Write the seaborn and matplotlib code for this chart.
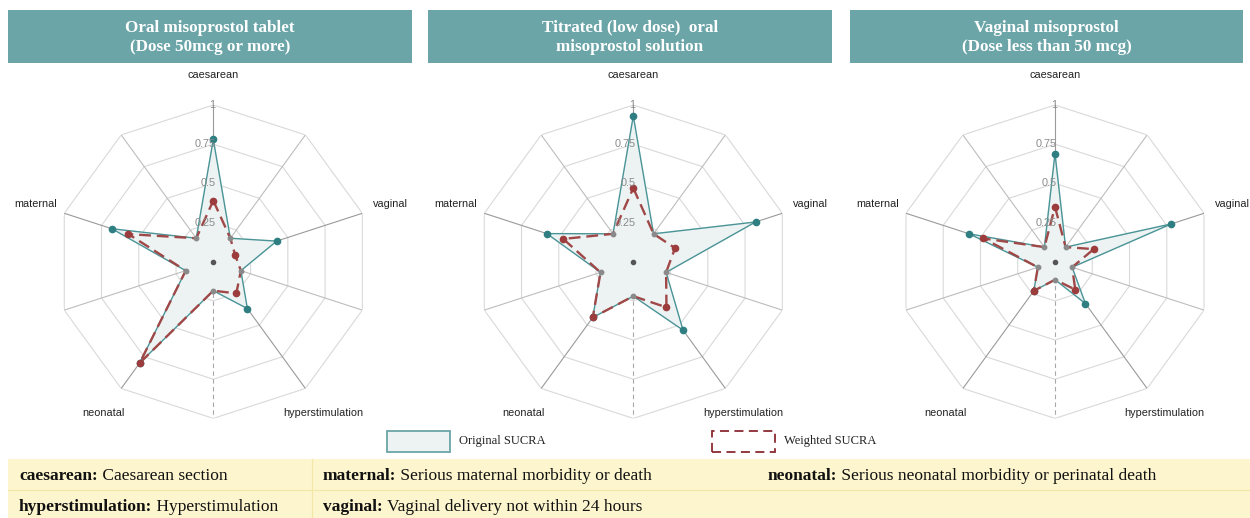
import numpy as np
import pandas as pd
import matplotlib
matplotlib.use("Agg")
import matplotlib.pyplot as plt
from matplotlib.patches import Rectangle
import seaborn as sns

# ---------------- data ----------------
categories = ["caesarean", "vaginal", "hyperstimulation", "neonatal", "maternal"]
titles = ["Oral misoprostol tablet\n(Dose 50mcg or more)",
          "Titrated (low dose)  oral\nmisoprostol solution",
          "Vaginal misoprostol\n(Dose less than 50 mcg)"]

oral_tablet_original = [0.78, 0.425, 0.37, 0.80, 0.68]
oral_tablet_weighted = [0.39, 0.146, 0.25, 0.80, 0.57]
oral_tablet_spacer = 0.185

titrated_original = [0.93, 0.82, 0.54, 0.44, 0.58]
titrated_weighted = [0.47, 0.28, 0.36, 0.44, 0.47]
titrated_spacer = 0.22

vaginal_original = [0.69, 0.78, 0.33, 0.23, 0.575]
vaginal_weighted = [0.35, 0.26, 0.22, 0.23, 0.48]
vaginal_spacer = 0.115

radial_ticks = [0.25, 0.5, 0.75, 1]
radial_tick_labels = ["0.25", "0.5", "0.75", "1"]

legend_labels = ["Original SUCRA", "Weighted SUCRA"]
glossary = [
    [("caesarean:", " Caesarean section"), ("maternal:", " Serious maternal morbidity or death"),
     ("neonatal:", " Serious neonatal morbidity or perinatal death")],
    [("hyperstimulation:", " Hyperstimulation"), ("vaginal:", " Vaginal delivery not within 24 hours")],
]

panels = [
    (oral_tablet_original, oral_tablet_weighted, oral_tablet_spacer),
    (titrated_original, titrated_weighted, titrated_spacer),
    (vaginal_original, vaginal_weighted, vaginal_spacer),
]

# ---------------- style ----------------
sns.set_theme(style="white")
plt.rcParams["font.family"] = ["Liberation Sans", "DejaVu Sans"]

W, H = 1250, 518
fig = plt.figure(figsize=(W / 100, H / 100), dpi=100)
fig.patch.set_facecolor("white")

def fx(x):
    return x / W

def fy(y):
    return 1 - y / H

TEAL_BOX = "#6ba5a8"
ORIG_LINE = "#4a9497"
ORIG_MARK = "#2f7f82"
ORIG_FILL = "#edf3f3"
WEIG_LINE = "#a04848"
WEIG_MARK = "#9c3c3c"
SERIF = ["Liberation Serif", "DejaVu Serif"]

centers_x = [213.3, 633.3, 1055.0]
center_y = 261.7
R = 156.7

n_ax = 10
theta_all = np.arange(n_ax) * 2 * np.pi / n_ax  # 0,36,...,324 deg (clockwise from top)

box_edges = [(8, 412), (428, 832), (850, 1243)]

for i, (orig, weig, spacer) in enumerate(panels):
    cx = centers_x[i]
    ax = fig.add_axes([fx(cx - R), fy(center_y + R), 2 * R / W, 2 * R / H],
                      projection="polar")
    ax.set_theta_zero_location("N")
    ax.set_theta_direction(-1)
    ax.set_ylim(0, 1)
    ax.axis("off")

    # rings
    th_closed = np.append(theta_all, theta_all[0])
    for rt in radial_ticks:
        ax.plot(th_closed, [rt] * (n_ax + 1), color="#d9d9d9", lw=0.8, zorder=1)
    # spokes
    for k, th in enumerate(theta_all):
        if k % 2 == 0:
            ax.plot([th, th], [0, 1], color="#9a9a9a", lw=0.8, zorder=1)
        elif k == 5:
            ax.plot([th, th], [0, 1], color="#a8a8a8", lw=0.8, ls=(0, (4, 3)), zorder=1)
        else:
            ax.plot([th, th], [0, 1], color="#bdbdbd", lw=0.8, zorder=1)

    # build 10-point series: labeled values at even positions, spacer at odd positions
    def full(vals):
        out = []
        for v in vals:
            out.append(v)
            out.append(spacer)
        return out

    r_orig = full(orig)
    r_weig = full(weig)
    df_o = pd.DataFrame({"theta": np.append(theta_all, theta_all[0]),
                         "r": r_orig + [r_orig[0]]})
    df_w = pd.DataFrame({"theta": np.append(theta_all, theta_all[0]),
                         "r": r_weig + [r_weig[0]]})

    ax.fill(df_o["theta"], df_o["r"], color=ORIG_FILL, zorder=2)
    sns.lineplot(data=df_o, x="theta", y="r", sort=False, estimator=None, ax=ax,
                 color=ORIG_LINE, lw=1.0, zorder=3)
    sns.lineplot(data=df_w, x="theta", y="r", sort=False, estimator=None, ax=ax,
                 color=WEIG_LINE, lw=1.7, linestyle=(0, (5, 2.5)), zorder=4)

    th_lab = theta_all[0::2]
    th_sp = theta_all[1::2]
    ax.plot(th_lab, orig, "o", color=ORIG_MARK, ms=4.5, zorder=5, clip_on=False)
    ax.plot(th_lab, weig, "o", color=WEIG_MARK, ms=4.5, zorder=6, clip_on=False)
    ax.plot(th_sp, [spacer] * 5, "o", color="#8a8a8a", ms=3.2, zorder=6)
    ax.plot([0], [0], "o", color="#555555", ms=3, zorder=6)

    # radial tick labels
    for rt, lab in zip(radial_ticks, radial_tick_labels):
        ax.annotate(lab, xy=(0, rt), xytext=(1.5, 0), textcoords="offset points",
                    ha="right", va="center", fontsize=7.8, color="#8a8a8a", zorder=7)

    # category labels
    for th, lab in zip(th_lab, categories):
        ax.text(th, 1.19, lab, ha="center", va="center", fontsize=7.8, color="#222222")

    ax.set_xlabel("")
    ax.set_ylabel("")

    # title box
    x0, x1 = box_edges[i]
    fig.add_artist(Rectangle((fx(x0), fy(63)), fx(x1 - x0), (63 - 10) / H,
                             transform=fig.transFigure, facecolor=TEAL_BOX,
                             edgecolor="none"))
    fig.text(fx((x0 + x1) / 2), fy(37.5), titles[i], ha="center", va="center",
             color="white", fontsize=12.3, fontweight="bold", family=SERIF,
             linespacing=1.3)

# ---------------- legend ----------------
fig.add_artist(Rectangle((fx(387), fy(452)), fx(63), 21 / H, transform=fig.transFigure,
                         facecolor=ORIG_FILL, edgecolor=TEAL_BOX, lw=1.3))
fig.text(fx(459), fy(441), legend_labels[0], ha="left", va="center", fontsize=9,
         family=SERIF, color="#222222")
fig.add_artist(Rectangle((fx(712), fy(452)), fx(63), 21 / H, transform=fig.transFigure,
                         facecolor="none", edgecolor="#8b2a33", lw=1.3,
                         linestyle=(0, (5, 3))))
fig.text(fx(784), fy(441), legend_labels[1], ha="left", va="center", fontsize=9,
         family=SERIF, color="#222222")

# ---------------- glossary table ----------------
YEL = "#fcf5cd"
fig.add_artist(Rectangle((fx(8), fy(518)), fx(1242), (518 - 459) / H,
                         transform=fig.transFigure, facecolor=YEL, edgecolor="none"))
fig.add_artist(plt.Line2D([fx(8), fx(1250)], [fy(490), fy(490)], color="#f3e7a6", lw=0.8))
fig.add_artist(plt.Line2D([fx(312), fx(312)], [fy(459), fy(518)], color="#f3e7a6", lw=0.8))

renderer = fig.canvas.get_renderer()
col_x = [19, 323, 768]
row_y = [476, 507]
for ri, row in enumerate(glossary):
    for ci, (bold, rest) in enumerate(row):
        t = fig.text(fx(col_x[ci]), fy(row_y[ri]), bold, ha="left", va="center",
                     fontsize=12.5, fontweight="bold", family=SERIF, color="#111111")
        bb = t.get_window_extent(renderer=renderer)
        fig.text(bb.x1 / W, fy(row_y[ri]), rest, ha="left", va="center",
                 fontsize=12.5, family=SERIF, color="#111111")

fig.savefig("out.png", dpi=100, facecolor="white")
